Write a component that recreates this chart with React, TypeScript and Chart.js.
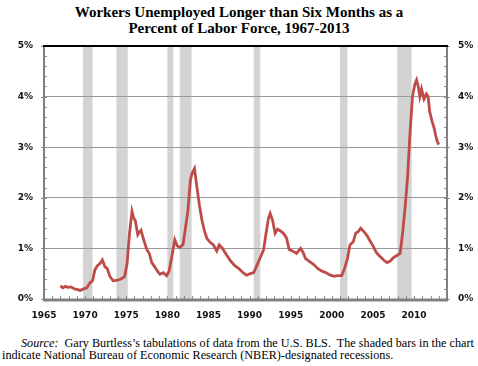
import { useEffect, useRef } from 'react';
import { Chart, registerables } from 'chart.js';
Chart.register(...registerables);

const titleLines = ['Workers Unemployed Longer than Six Months as a', 'Percent of Labor Force, 1967-2013'];

const years = [
  1967.0, 1967.3, 1967.6, 1967.9, 1968.3, 1968.7, 1969.0, 1969.4, 1969.8, 1970.2, 1970.6, 1970.9,
  1971.2, 1971.5, 1971.8, 1972.1, 1972.4, 1972.7, 1973.0, 1973.4, 1973.8, 1974.3, 1974.8, 1975.1,
  1975.4, 1975.7, 1975.9, 1976.1, 1976.4, 1976.6, 1976.8, 1977.1, 1977.5, 1977.8, 1978.1, 1978.4,
  1978.8, 1979.1, 1979.5, 1979.9, 1980.2, 1980.5, 1980.9, 1981.2, 1981.5, 1981.9, 1982.2, 1982.5,
  1982.8, 1983.0, 1983.3, 1983.6, 1983.9, 1984.2, 1984.5, 1984.8, 1985.2, 1985.6, 1986.0, 1986.3,
  1986.7, 1987.2, 1987.7, 1988.2, 1988.7, 1989.2, 1989.6, 1990.1, 1990.5, 1990.9, 1991.3, 1991.7,
  1992.0, 1992.3, 1992.5, 1992.8, 1993.1, 1993.4, 1993.8, 1994.2, 1994.5, 1994.8, 1995.2, 1995.7,
  1996.2, 1996.5, 1996.8, 1997.3, 1997.8, 1998.3, 1998.8, 1999.3, 1999.8, 2000.3, 2000.7, 2001.2,
  2001.5, 2001.9, 2002.2, 2002.6, 2002.9, 2003.2, 2003.5, 2003.9, 2004.3, 2004.7, 2005.0, 2005.4,
  2005.8, 2006.3, 2006.7, 2007.1, 2007.5, 2007.9, 2008.3, 2008.6, 2008.9, 2009.2, 2009.5, 2009.8,
  2010.1, 2010.3, 2010.5, 2010.7, 2010.9, 2011.2, 2011.5, 2011.7, 2011.9, 2012.2, 2012.4, 2012.6,
  2012.8, 2013.0,
];

const values = [
  0.26, 0.22, 0.25, 0.23, 0.24, 0.2, 0.19, 0.17, 0.2, 0.22, 0.32, 0.36,
  0.58, 0.66, 0.7, 0.77, 0.64, 0.6, 0.45, 0.36, 0.37, 0.39, 0.44, 0.7,
  1.3, 1.73, 1.6, 1.55, 1.27, 1.32, 1.36, 1.18, 0.98, 0.9, 0.72, 0.65,
  0.55, 0.49, 0.52, 0.46, 0.55, 0.8, 1.17, 1.05, 1.02, 1.07, 1.4, 1.75,
  2.35, 2.48, 2.58, 2.2, 1.85, 1.56, 1.35, 1.2, 1.12, 1.07, 0.95, 1.07,
  1.0, 0.87, 0.75, 0.66, 0.6, 0.52, 0.47, 0.5, 0.52, 0.67, 0.82, 0.97,
  1.3, 1.6, 1.69, 1.55, 1.3, 1.38, 1.34, 1.28, 1.2, 0.98, 0.95, 0.9,
  1.0, 0.92, 0.8, 0.74, 0.68, 0.6, 0.55, 0.52, 0.47, 0.45, 0.46, 0.46,
  0.58, 0.8, 1.07, 1.13, 1.3, 1.33, 1.4, 1.33, 1.25, 1.13, 1.05, 0.92,
  0.85, 0.77, 0.72, 0.75, 0.82, 0.86, 0.9, 1.3, 1.8, 2.4, 3.27, 4.0,
  4.25, 4.33, 4.2, 4.0, 4.15, 3.95, 4.05, 4.0, 3.7, 3.5, 3.4, 3.25,
  3.12, 3.05,
];

const recessionStarts = [1969.75, 1973.8, 1980.0, 1981.5, 1990.5, 2001.0, 2007.95];
const recessionEnds = [1970.9, 1975.18, 1980.72, 1982.95, 1991.3, 2001.9, 2009.7];

const xTickValues = [1965, 1970, 1975, 1980, 1985, 1990, 1995, 2000, 2005, 2010];
const yTickValues = [0, 1, 2, 3, 4, 5];

const sourceLabel = 'Source:';
const sourceLine1 = '  Gary Burtless\u2019s tabulations of data from the U.S. BLS.  The shaded bars in the chart';
const sourceLine2 = 'indicate National Bureau of Economic Research (NBER)-designated recessions.';

const CANVAS_H = 330;
const tickFont = { family: 'DejaVu Sans', size: 9, weight: 'bold' as const };

const decorPlugin = {
  id: 'decor',
  beforeDraw(chart: any) {
    const { ctx, chartArea, scales } = chart;
    const x = scales.x;
    ctx.save();
    ctx.fillStyle = '#d3d3d3';
    recessionStarts.forEach((s, i) => {
      const x0 = x.getPixelForValue(s);
      const x1 = x.getPixelForValue(recessionEnds[i]);
      ctx.fillRect(x0, chartArea.top, x1 - x0, chartArea.bottom - chartArea.top);
    });
    ctx.restore();
  },
  afterDraw(chart: any) {
    const { ctx, chartArea, scales } = chart;
    const { left, right, top, bottom } = chartArea;
    const y = scales.y;
    const x = scales.x;
    ctx.save();
    ctx.strokeStyle = '#8a8a8a';
    ctx.lineWidth = 1;
    for (let v = 0.2; v < 5; v += 0.2) {
      const py = Math.round(y.getPixelForValue(v)) + 0.5;
      ctx.beginPath();
      ctx.moveTo(left, py);
      ctx.lineTo(left + 3, py);
      ctx.moveTo(right, py);
      ctx.lineTo(right - 3, py);
      ctx.stroke();
    }
    for (let yr = 1966; yr < 2014; yr++) {
      const px = Math.round(x.getPixelForValue(yr)) + 0.5;
      ctx.beginPath();
      ctx.moveTo(px, bottom);
      ctx.lineTo(px, bottom - 3);
      ctx.stroke();
    }
    yTickValues.forEach((v) => {
      const py = Math.round(y.getPixelForValue(v)) + 0.5;
      ctx.beginPath();
      ctx.moveTo(left - 3, py);
      ctx.lineTo(left, py);
      ctx.moveTo(right, py);
      ctx.lineTo(right + 3, py);
      ctx.stroke();
    });
    ctx.lineWidth = 2;
    ctx.strokeStyle = '#808080';
    ctx.beginPath();
    ctx.moveTo(left, top);
    ctx.lineTo(left, bottom);
    ctx.moveTo(right, top);
    ctx.lineTo(right, bottom);
    ctx.stroke();
    ctx.lineWidth = 3;
    ctx.beginPath();
    ctx.moveTo(left - 1, bottom + 1);
    ctx.lineTo(right + 1, bottom + 1);
    ctx.stroke();
    ctx.strokeStyle = '#000000';
    ctx.lineWidth = 2;
    ctx.beginPath();
    ctx.moveTo(left - 1, top);
    ctx.lineTo(right + 1, top);
    ctx.stroke();
    ctx.restore();
  },
};

export default function App() {
  const canvasRef = useRef<HTMLCanvasElement>(null);

  useEffect(() => {
    if (!canvasRef.current) return;
    const chart = new Chart(canvasRef.current, {
      type: 'line',
      data: {
        datasets: [
          {
            label: 'Long-term unemployed (% of labor force)',
            data: years.map((yr, i) => ({ x: yr, y: values[i] })),
            borderColor: '#be4b48',
            borderWidth: 2.8,
            pointRadius: 0,
            tension: 0,
            fill: false,
          },
        ],
      },
      options: {
        responsive: false,
        animation: false,
        layout: { padding: { top: 46, left: 0, right: 0, bottom: 0 } },
        plugins: { legend: { display: false }, title: { display: false }, tooltip: { enabled: false } },
        scales: {
          x: {
            type: 'linear',
            position: 'bottom',
            min: 1965,
            max: 2014,
            grid: { display: false, drawTicks: false },
            border: { display: false },
            ticks: {
              font: tickFont,
              color: '#111',
              padding: 11,
              maxRotation: 0,
              includeBounds: false,
              callback: (v: any) => String(v),
            },
            afterBuildTicks: (s: any) => {
              s.ticks = xTickValues.map((v) => ({ value: v }));
            },
            afterFit: (s: any) => {
              s.height = CANVAS_H - 299;
            },
          },
          y: {
            type: 'linear',
            position: 'left',
            min: 0,
            max: 5,
            grid: { color: '#9a9a9a', lineWidth: 1, drawTicks: false },
            border: { display: false },
            ticks: { font: tickFont, color: '#111', padding: 11, callback: (v: any) => v + '%' },
            afterBuildTicks: (s: any) => {
              s.ticks = yTickValues.map((v) => ({ value: v }));
            },
            afterFit: (s: any) => {
              s.width = 44;
            },
          },
          y2: {
            type: 'linear',
            position: 'right',
            min: 0,
            max: 5,
            grid: { display: false, drawTicks: false },
            border: { display: false },
            ticks: { font: tickFont, color: '#111', padding: 11, callback: (v: any) => v + '%' },
            afterBuildTicks: (s: any) => {
              s.ticks = yTickValues.map((v) => ({ value: v }));
            },
            afterFit: (s: any) => {
              s.width = 31;
            },
          },
        },
      },
      plugins: [decorPlugin],
    });
    return () => chart.destroy();
  }, []);

  return (
    <div style={{ position: 'absolute', left: 0, top: 0, width: 478, height: 366, background: '#fff', overflow: 'hidden' }}>
      <div
        style={{
          position: 'absolute',
          top: 4,
          left: 0,
          width: 478,
          textAlign: 'center',
          fontFamily: '"Liberation Serif", serif',
          fontWeight: 'bold',
          fontSize: 15,
          lineHeight: '16px',
          color: '#000',
        }}
      >
        {titleLines.map((t) => (
          <div key={t}>{t}</div>
        ))}
      </div>
      <canvas ref={canvasRef} width={478} height={CANVAS_H} style={{ position: 'absolute', left: 0, top: 0 }} />
      <div
        style={{
          position: 'absolute',
          top: 338,
          left: 2,
          fontFamily: '"Liberation Serif", serif',
          fontSize: 12.2,
          lineHeight: '11.5px',
          color: '#000',
          whiteSpace: 'pre',
        }}
      >
        <div style={{ paddingLeft: 19 }}>
          <i>{sourceLabel}</i>
          {sourceLine1}
        </div>
        <div>{sourceLine2}</div>
      </div>
    </div>
  );
}
